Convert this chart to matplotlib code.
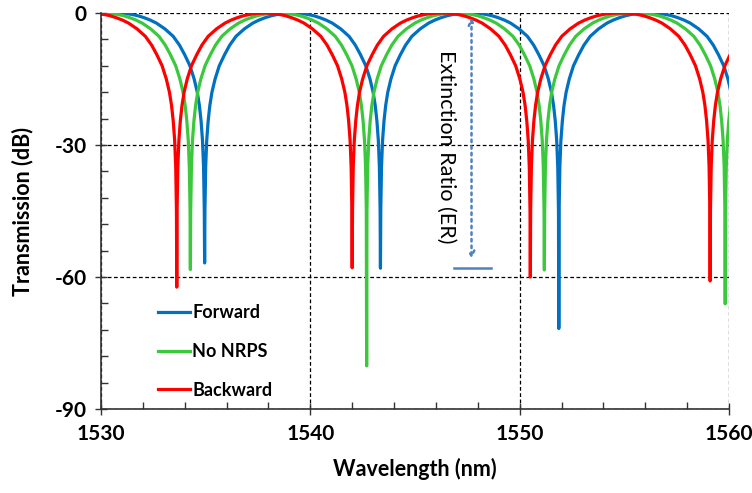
import matplotlib
matplotlib.use("Agg")
import matplotlib.pyplot as plt
from matplotlib.ticker import MultipleLocator

plt.rcParams['font.family'] = ['Lato', 'DejaVu Sans']
plt.rcParams['axes.unicode_minus'] = False

# dip shape: distance from a dip centre (nm) -> level (dB)
shape_offset_nm = [0.015, 0.05, 0.1, 0.17, 0.25, 0.35, 0.5, 0.7, 0.95, 1.2, 1.5, 1.9,
                   2.3, 2.6, 2.9, 3.2, 3.5, 3.8, 4.05]
shape_db = [-45, -35, -29, -24.5, -21, -18, -15, -12, -9.5, -7.3, -5.3, -3.6,
            -2.3, -1.6, -1.05, -0.6, -0.3, -0.1, -0.02]

# resonance dips (centre wavelength, bottom level) for each case
forward_dips_nm = [1526.5, 1534.95, 1543.35, 1551.87, 1560.45]
forward_depth_db = [-58, -56.8, -58.0, -71.7, -58]
nonrps_dips_nm = [1525.85, 1534.27, 1542.69, 1551.18, 1559.82]
nonrps_depth_db = [-58, -58.3, -80.2, -58.4, -66.1]
backward_dips_nm = [1525.25, 1533.62, 1542.0, 1550.51, 1559.1, 1567.7]
backward_depth_db = [-58, -62.3, -57.9, -60.0, -60.9, -58]

names = ['Forward', 'No NRPS', 'Backward']
colors = ['#0070C0', '#3CC83C', '#FF0000']

# extinction ratio marker
er_x = 1547.7
er_top = -0.4
er_bottom = -56.5
er_bar_y = -58.0
er_bar_x = [1546.87, 1548.64]


def build(dips, depths):
    wl = []
    db = []
    for i in range(len(dips)):
        c = dips[i]
        lo = (c - dips[i-1]) / 2 if i > 0 else 4.25
        hi = (dips[i+1] - c) / 2 if i < len(dips) - 1 else 4.25
        if i == 0:
            wl.append(c - lo)
            db.append(0.0)
        for k in range(len(shape_offset_nm) - 1, -1, -1):
            if shape_offset_nm[k] < lo:
                wl.append(c - shape_offset_nm[k])
                db.append(shape_db[k])
        wl.append(c)
        db.append(depths[i])
        for k in range(len(shape_offset_nm)):
            if shape_offset_nm[k] < hi:
                wl.append(c + shape_offset_nm[k])
                db.append(shape_db[k])
        wl.append(c + hi)
        db.append(0.0)
    return wl, db


fig = plt.figure(figsize=(7.52, 4.93), dpi=100)
ax = fig.add_axes([0.1343, 0.1704, 0.8351, 0.8032])

series = [(forward_dips_nm, forward_depth_db), (nonrps_dips_nm, nonrps_depth_db),
          (backward_dips_nm, backward_depth_db)]
for q in range(3):
    wl, db = build(*series[q])
    ax.plot(wl, db, color=colors[q], lw=2.3, label=names[q], solid_joinstyle='round')

ax.set_xlim(1530, 1560)
ax.set_ylim(-90, 0)
ax.xaxis.set_major_locator(MultipleLocator(10))
ax.xaxis.set_minor_locator(MultipleLocator(2))
ax.yaxis.set_major_locator(MultipleLocator(30))
ax.yaxis.set_minor_locator(MultipleLocator(6))
ax.tick_params(which='major', direction='inout', length=9, width=1, colors='#333333',
               labelsize=15, labelcolor='black', pad=6)
ax.tick_params(which='minor', direction='in', length=5, width=1, colors='#333333')
for lab in ax.get_xticklabels() + ax.get_yticklabels():
    lab.set_fontweight('bold')

ax.grid(True, which='major', color='black', linestyle=(0, (3, 2)), lw=0.9)
ax.spines['top'].set_visible(False)
ax.spines['right'].set_visible(False)
ax.spines['left'].set_color('#333333')
ax.spines['bottom'].set_color('#333333')
for s in ['left', 'bottom']:
    ax.spines[s].set_linewidth(1.2)

ax.set_xlabel('Wavelength (nm)', fontsize=15.5, fontweight='bold', labelpad=10)
ax.set_ylabel('Transmission (dB)', fontsize=15.5, fontweight='bold', labelpad=15)

# ER arrow
ax.annotate('', xy=(er_x, er_bottom), xytext=(er_x, er_top),
            arrowprops=dict(arrowstyle='<->', color='#4F81BD', lw=1.8, linestyle=':'))
ax.plot(er_bar_x, [er_bar_y, er_bar_y], color='#4F81BD', lw=1.8)
ax.text(1546.5, -30.3, 'Extinction Ratio (ER)', rotation=-90, ha='center', va='center',
        fontsize=15.5, color='black')

ax.legend(loc='upper left', bbox_to_anchor=(0.065, 0.305), frameon=False,
          labelspacing=1.2, handlelength=1.75, handletextpad=0.15,
          prop={'weight': 'bold', 'size': 13})

fig.savefig('out.png', dpi=100)
